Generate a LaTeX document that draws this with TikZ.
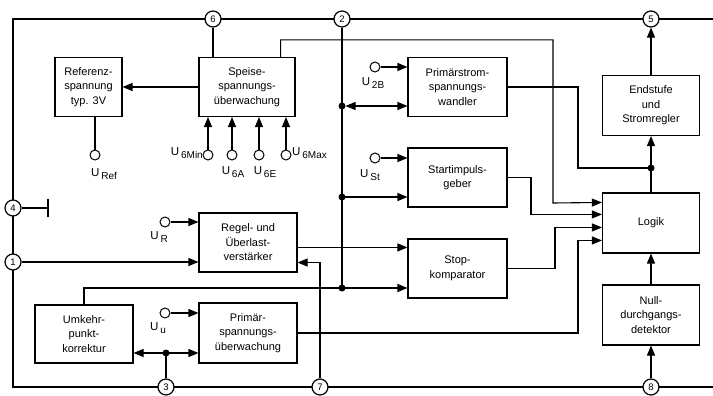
\documentclass[tikz,border=0pt]{standalone}
\usepackage{fontspec}
\setmainfont{Liberation Sans}
\usetikzlibrary{arrows.meta,calc}
\begin{document}
\begin{tikzpicture}[x=1pt,y=-1pt,
  blk/.style={draw,line width=1.1pt,inner sep=1pt,align=center,
    font=\fontsize{11}{14.5}\selectfont,minimum height=59pt},
  pin/.style={circle,draw,line width=1.2pt,fill=white,minimum size=16pt,
    inner sep=0pt,font=\fontsize{9.5}{9.5}\selectfont},
  term/.style={circle,draw,line width=1pt,fill=white,minimum size=10pt,inner sep=0pt},
  jdot/.style={circle,fill,minimum size=7pt,inner sep=0pt},
  ln/.style={line width=1.1pt},
  arr/.style={ln,-{Triangle[length=10pt,width=8pt]}},
  darr/.style={ln,{Triangle[length=10pt,width=8pt]}-{Triangle[length=10pt,width=8pt]}},
  frm/.style={line width=2pt},
  lbl/.style={font=\fontsize{11.5}{12}\selectfont,inner sep=0pt}]
\useasboundingbox (0,0) rectangle (713,396);
\newcommand{\Usub}[1]{U\,\raisebox{-0.55ex}{\fontsize{10}{10}\selectfont #1}}

% frame
\draw[frm] (713,19) -- (13,19) -- (13,387) -- (713,387);

% pins
\node[pin] (p6) at (213,19) {6};
\node[pin] (p2) at (342,19) {2};
\node[pin] (p5) at (651,19) {5};
\node[pin] (p4) at (13,208) {4};
\node[pin] (p1) at (13,262) {1};
\node[pin] (p3) at (166,387) {3};
\node[pin] (p7) at (320,387) {7};
\node[pin] (p8) at (651,387) {8};

% blocks
\node[blk,minimum width=67pt] (ref) at (88.5,87) {Referenz-\\spannung\\typ. 3V};
\node[blk,minimum width=96pt] (spe) at (247,87) {Speise-\\spannungs-\\überwachung};
\node[blk,minimum width=99pt] (prs) at (457.5,87) {Primärstrom-\\spannungs-\\wandler};
\node[blk,minimum width=99pt] (sta) at (457.5,177.5) {Startimpuls-\\geber};
\node[blk,minimum width=99pt] (sto) at (457.5,268.5) {Stop-\\komparator};
\node[blk,minimum width=98pt] (reg) at (248,242.5) {Regel- und\\Überlast-\\verstärker};
\node[blk,minimum width=98pt,minimum height=58pt] (umk) at (84,334) {Umkehr-\\punkt-\\korrektur};
\node[blk,minimum width=98pt,minimum height=60pt] (prm) at (248,333) {Primär-\\spannungs-\\überwachung};
\node[blk,minimum width=97pt,minimum height=60pt] (end) at (651,105.5) {Endstufe\\und\\Stromregler};
\node[blk,minimum width=97pt,minimum height=60pt] (log) at (651,223) {Logik};
\node[blk,minimum width=97pt,minimum height=60pt] (nul) at (651,315) {Null-\\durchgangs-\\detektor};

% terminals
\node[term] (tref) at (95,155) {};
\node[term] (t6min) at (208,155) {};
\node[term] (t6a) at (232,155) {};
\node[term] (t6e) at (259,155) {};
\node[term] (t6max) at (286,155) {};
\node[term] (t2b) at (375,67) {};
\node[term] (tst) at (375,158) {};
\node[term] (tr) at (165,222) {};
\node[term] (tu) at (165,313) {};

% terminal labels
\node[lbl] (lref) at (104,174) {\Usub{Ref}};
\node[lbl,anchor=east] (l6min) at (203,153) {\Usub{6Min}};
\node[lbl] (l6a) at (233,172) {\Usub{6A}};
\node[lbl] (l6e) at (265,172) {\Usub{6E}};
\node[lbl,anchor=west] (l6max) at (292,153) {\Usub{6Max}};
\node[lbl] (l2b) at (373,83) {\Usub{2B}};
\node[lbl] (lst) at (370,175) {\Usub{St}};
\node[lbl] (lr) at (159,237) {\Usub{R}};
\node[lbl] (lu) at (158,328) {\Usub{u}};

% junction coordinates
\coordinate (d1) at (342,106);
\coordinate (d2) at (342,197);
\coordinate (d3) at (342,288);
\coordinate (d4) at (166,353);
\coordinate (d5) at (651,168);
\coordinate (L1) at ($(log.north west)+(0,10)$);
\coordinate (L2) at ($(log.north west)+(0,22)$);
\coordinate (L3) at ($(log.north west)+(0,35)$);
\coordinate (L4) at ($(log.north west)+(0,48)$);
\coordinate (R1) at ($(reg.north east)+(0,35)$);
\coordinate (R2) at ($(reg.south east)+(0,-10)$);
\coordinate (S1) at ($(spe.north east)+(-15,0)$);
\coordinate (g) at (48,208);

% Speise / Referenz
\draw[ln] (p6.south) -- (p6.south |- spe.north);
\draw[arr] (spe.west) -- (ref.east);
\draw[ln] (tref.north) -- (tref.north |- ref.south);
\foreach \t in {t6min,t6a,t6e,t6max}
  \draw[arr] (\t.north) -- (\t.north |- spe.south);
\draw[arr] (S1) -- ++(0,-17) -| (553,203) -- (L1);

% bus pin 2
\draw[ln] (p2.south) -- (d3);
\draw[arr] (t2b.east) -- (t2b.east -| prs.west);
\draw[darr] ($(d1)+(3.5,0)$) -- (d1 -| prs.west);
\draw[ln] (prs.east) -- (578,87) |- (d5);
\draw[arr] (tst.east) -- (tst.east -| sta.west);
\draw[arr] (d2) -- (d2 -| sta.west);
\draw[arr] (sta.east) -- (531,177.5) |- (L2);
\draw[arr] (R1) -- (R1 -| sto.west);
\draw[arr] (d3) -- (d3 -| sto.west);
\draw[arr] (sto.east) -- (555,268.5) |- (L3);
\draw[ln] (d3) -| (umk.north);

% Regel
\draw[arr] (tr.east) -- (tr.east -| reg.west);
\draw[arr] (p1.east) -- (p1.east -| reg.west);
\draw[arr] (p7.north) |- (R2);

% pin 4
\draw[ln] (p4.east) -- (g);
\draw[line width=2.5pt] ($(g)+(0,-9)$) -- ($(g)+(0,9)$);

% Primär / Umkehr
\draw[arr] (tu.east) -- (tu.east -| prm.west);
\draw[ln] (p3.north) -- (d4);
\draw[arr] (d4) -- (d4 -| prm.west);
\draw[arr] (d4) -- (d4 -| umk.east);
\draw[arr] (prm.east) -- (578,333) |- (L4);

% right column
\draw[arr] (log.north) -- (end.south);
\draw[arr] (end.north) -- (p5.south);
\draw[arr] (p8.north) -- (nul.south);
\draw[arr] (nul.north) -- (log.south);

% dots
\foreach \d in {d1,d2,d3,d4,d5}
  \node[jdot] at (\d) {};
\end{tikzpicture}
\end{document}
